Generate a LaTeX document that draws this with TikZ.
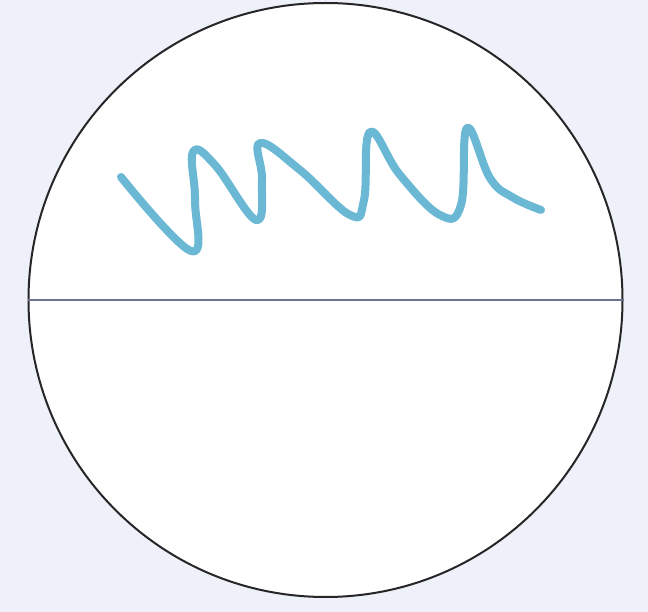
\documentclass[tikz,border=0pt]{standalone}
\definecolor{bgc}{HTML}{EEF0FA}
\definecolor{wavec}{HTML}{6BB8D4}
\definecolor{linec}{HTML}{6E7290}
\begin{document}
\begin{tikzpicture}[x=1pt,y=-1pt,
  rim/.style={draw=black!85,line width=2pt,fill=white},
  divider/.style={draw=linec,line width=1.6pt},
  squiggle/.style={draw=wavec,line width=8pt,line cap=round,line join=round}]
\fill[bgc] (0,0) rectangle (648,612);
\useasboundingbox (0,0) rectangle (648,612);
\node[circle,rim,minimum size=594pt,inner sep=0pt] (c) at (325.5,300) {};
\draw[divider] (c.west) -- (c.east);
\draw[squiggle] plot[smooth,tension=0.7] coordinates {
 (121,177) (191,251) (195,200) (193,152) (215,165) (256,220) (262,180) (260,143)
 (300,170) (350,215) (364,200) (370,132) (400,175) (440,215) (461,205) (467,128)
 (490,178) (512,197) (541,210)};
\end{tikzpicture}
\end{document}
